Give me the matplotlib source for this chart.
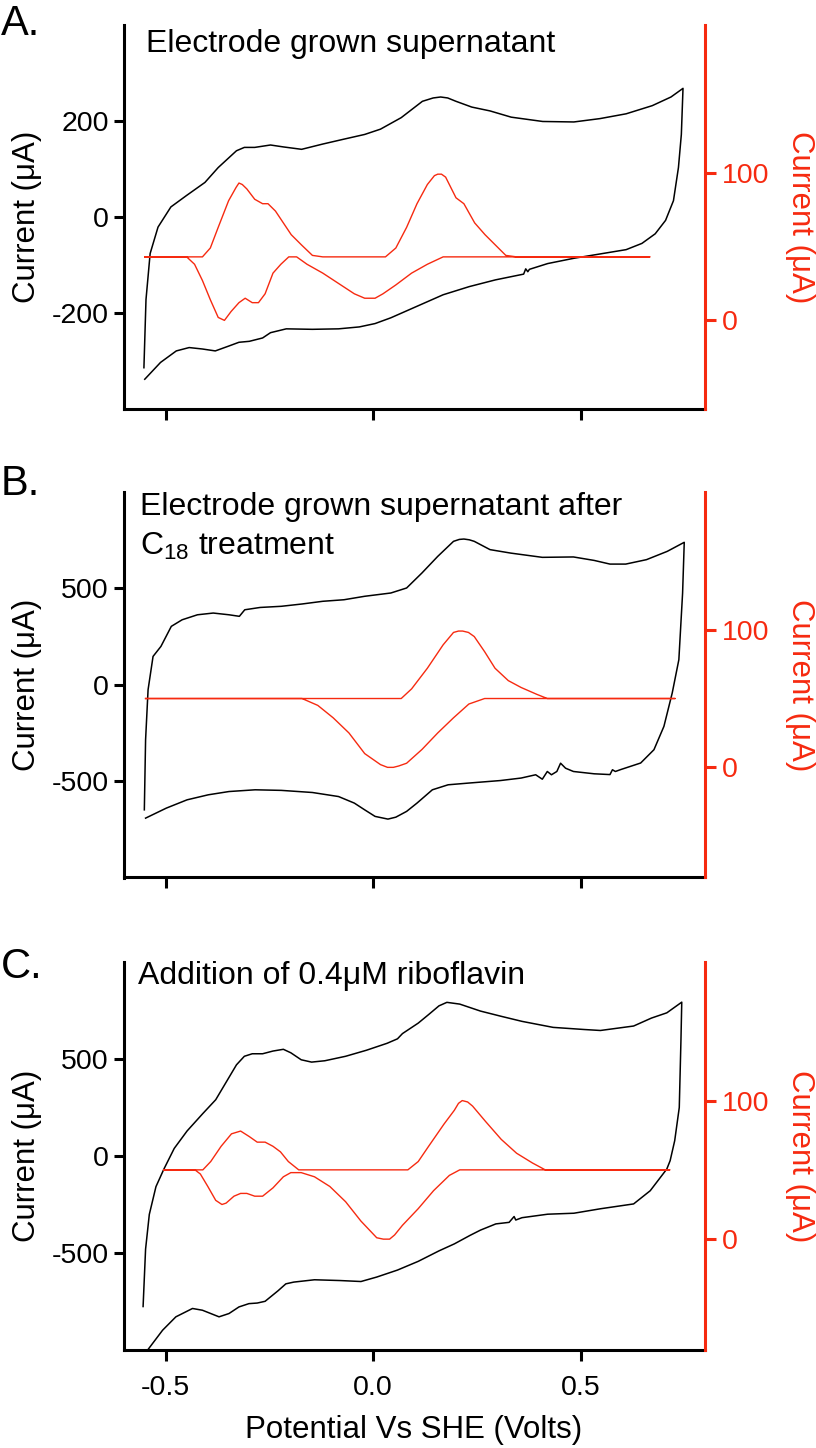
import matplotlib
matplotlib.use("Agg")
import matplotlib.pyplot as plt

plt.rcParams['font.family'] = ['Liberation Sans', 'DejaVu Sans']
plt.rcParams['mathtext.default'] = 'regular'

RED = '#f62a10'

# panel A, black loop (left axis, uA)
a_black_v = [-0.552, -0.547, -0.537, -0.518, -0.487, -0.449, -0.405, -0.373, -0.329, -0.310,
             -0.285, -0.247, -0.216, -0.172, -0.121, -0.071, -0.020, 0.018, 0.068, 0.119,
             0.145, 0.163, 0.180, 0.200, 0.238, 0.282, 0.333, 0.409, 0.484, 0.547, 0.610,
             0.673, 0.718, 0.747,
             0.743, 0.736, 0.724, 0.705, 0.680, 0.648, 0.610, 0.547, 0.484, 0.421, 0.377, 0.373,
             0.368, 0.363, 0.295, 0.232, 0.169, 0.106, 0.043, 0.005, -0.033, -0.083, -0.146,
             -0.209, -0.247, -0.266, -0.298, -0.323, -0.348, -0.380, -0.411, -0.443, -0.474,
             -0.512, -0.550]
a_black_i = [-314, -172, -76, -21, 21, 45, 72, 103, 138, 145,
             145, 150, 146, 141, 152, 162, 172, 183, 207, 241,
             248, 250, 248, 241, 229, 221, 208, 199, 198, 205, 215,
             232, 250, 268,
             172, 103, 34, -7, -35, -55, -68, -77, -86, -97, -109, -114,
             -108, -119, -131, -145, -162, -186, -210, -222, -229, -233, -234,
             -233, -241, -252, -259, -261, -269, -279, -275, -272, -279,
             -303, -338]
# panel A, red loop (right axis, uA)
a_red_v = [-0.550, -0.411, -0.392, -0.373, -0.348, -0.330, -0.323, -0.315, -0.304, -0.285,
           -0.266, -0.253, -0.235, -0.216, -0.197, -0.172, -0.146, -0.121, 0.030, 0.055,
           0.081, 0.106, 0.131, 0.148, 0.156, 0.165, 0.175, 0.200, 0.219, 0.245, 0.270,
           0.295, 0.320, 0.346, 0.667,
           0.169, 0.131, 0.093, 0.055, 0.024, 0.005, -0.020, -0.045, -0.083, -0.121, -0.159,
           -0.184, -0.203, -0.222, -0.241, -0.260, -0.276, -0.291, -0.308, -0.323, -0.342,
           -0.358, -0.373, -0.392, -0.411, -0.430, -0.449, -0.550]
a_red_i = [43, 43, 49, 63, 81, 90, 93, 92, 89, 82,
           79, 79, 74, 66, 58, 51, 44, 43, 43, 49,
           63, 79, 92, 98, 99, 99, 97, 83, 79, 66, 58,
           51, 44, 43, 43,
           43, 38, 32, 24, 18, 15, 15, 18, 25, 32, 38,
           43, 43, 38, 32, 18, 12, 12, 15, 12, 6,
           0, 2, 14, 27, 38, 43, 43]

# panel B
b_black_v = [-0.551, -0.548, -0.542, -0.530, -0.511, -0.486, -0.460, -0.423, -0.385, -0.347,
             -0.322, -0.309, -0.272, -0.221, -0.171, -0.121, -0.070, -0.020, 0.043, 0.081,
             0.118, 0.156, 0.194, 0.208, 0.219, 0.232, 0.244, 0.282, 0.332, 0.408, 0.483,
             0.533, 0.571, 0.609, 0.659, 0.709, 0.750,
             0.746, 0.737, 0.721, 0.701, 0.677, 0.645, 0.597, 0.584, 0.577, 0.571, 0.533,
             0.483, 0.464, 0.452, 0.443, 0.430, 0.420, 0.408, 0.392, 0.357, 0.307, 0.231,
             0.181, 0.143, 0.106, 0.081, 0.055, 0.036, 0.005, -0.020, -0.045, -0.083, -0.146,
             -0.221, -0.284, -0.347, -0.397, -0.448, -0.498, -0.548]
b_black_i = [-649, -286, -26, 147, 199, 303, 337, 363, 372, 363,
             355, 389, 401, 407, 419, 433, 441, 459, 476, 502,
             580, 666, 744, 754, 756, 752, 744, 701, 683, 661, 663,
             645, 626, 626, 649, 692, 739,
             475, 130, -43, -216, -337, -406, -440, -450, -441, -466, -462,
             -450, -433, -407, -450, -467, -450, -490, -467, -484, -497, -510,
             -519, -545, -614, -657, -687, -697, -683, -649, -614, -580, -559,
             -548, -545, -554, -571, -597, -640, -692]
b_red_v = [-0.548, 0.068, 0.093, 0.131, 0.169, 0.194, 0.206, 0.216, 0.230, 0.244,
           0.269, 0.294, 0.326, 0.357, 0.395, 0.420, 0.728,
           0.269, 0.231, 0.194, 0.156, 0.118, 0.081, 0.062, 0.049, 0.035, 0.018, -0.020,
           -0.058, -0.096, -0.133, -0.171, -0.196, -0.548]
b_red_i = [50, 50, 57, 72, 89, 98, 99, 99, 98, 95,
           84, 72, 63, 58, 53, 50, 50,
           50, 46, 36, 25, 13, 3, 1, 0, 0, 2, 10,
           25, 36, 45, 50, 50, 50]

# panel C
c_black_v = [-0.554, -0.548, -0.539, -0.523, -0.504, -0.479, -0.448, -0.410, -0.379, -0.354,
             -0.329, -0.310, -0.291, -0.266, -0.241, -0.216, -0.198, -0.173, -0.148, -0.116,
             -0.066, -0.016, 0.034, 0.059, 0.071, 0.109, 0.134, 0.159, 0.178, 0.209,
             0.259, 0.309, 0.359, 0.434, 0.509, 0.548, 0.628, 0.671, 0.708, 0.744,
             0.742, 0.738, 0.727, 0.716, 0.708, 0.668, 0.628, 0.548, 0.484, 0.421, 0.359,
             0.344, 0.340, 0.328, 0.296, 0.259, 0.234, 0.196, 0.159, 0.109, 0.059, 0.009,
             -0.029, -0.079, -0.141, -0.191, -0.210, -0.229, -0.260, -0.279, -0.299, -0.323,
             -0.347, -0.371, -0.411, -0.435, -0.475, -0.507, -0.543]
c_black_i = [-776, -480, -301, -158, -68, 39, 129, 219, 290, 380,
             470, 514, 527, 527, 541, 550, 532, 496, 484, 491,
             514, 545, 581, 604, 631, 685, 729, 774, 792, 783,
             747, 720, 694, 663, 652, 647, 670, 711, 738, 793,
             593, 250, 79, -24, -67, -179, -247, -272, -295, -300, -318,
             -330, -312, -342, -350, -382, -409, -453, -489, -543, -588, -624,
             -647, -642, -638, -650, -659, -695, -749, -758, -761, -778,
             -812, -829, -795, -786, -829, -898, -1000]
c_red_v = [-0.504, -0.410, -0.391, -0.366, -0.341, -0.319, -0.298, -0.279, -0.260, -0.241,
           -0.223, -0.204, -0.179, 0.084, 0.109, 0.134, 0.171, 0.196, 0.206, 0.215, 0.228,
           0.240, 0.271, 0.309, 0.346, 0.384, 0.415, 0.715,
           0.209, 0.184, 0.146, 0.109, 0.071, 0.052, 0.040, 0.025, 0.009, -0.029, -0.066,
           -0.104, -0.141, -0.173, -0.198, -0.216, -0.241, -0.266, -0.285, -0.304, -0.319,
           -0.335, -0.354, -0.364, -0.379, -0.398, -0.416, -0.429, -0.504]
c_red_i = [50, 50, 56, 67, 76, 78, 74, 70, 70, 67,
           63, 56, 50, 50, 56, 67, 83, 93, 98, 100, 99,
           96, 85, 72, 62, 55, 50, 50,
           50, 46, 35, 22, 10, 3, 0, 0, 1, 13, 27,
           38, 45, 48, 48, 45, 37, 31, 31, 33, 33,
           31, 26, 25, 28, 38, 47, 50, 50]

panels = [
    ('A.', ['Electrode grown supernatant'], a_black_v, a_black_i, a_red_v, a_red_i,
     (-400, 400), [-200, 0, 200], (-60, 200)),
    ('B.', ['Electrode grown supernatant after', 'C$_{18}$ treatment'],
     b_black_v, b_black_i, b_red_v, b_red_i, (-1000, 1000), [-500, 0, 500], (-80, 200)),
    ('C.', ['Addition of 0.4\u03bcM riboflavin'], c_black_v, c_black_i, c_red_v, c_red_i,
     (-1000, 1000), [-500, 0, 500], (-80, 200)),
]

W, H = 816, 1448
# axes boxes in pixels: top, bottom
boxes = [(25, 409), (492, 877.5), (962, 1350)]
x_left, x_right = 124, 705

fig = plt.figure(figsize=(W / 100, H / 100), dpi=100)

for k, (tag, title, bv, bi, rv, ri, ylim, yticks, rlim) in enumerate(panels):
    top, bot = boxes[k]
    ax = fig.add_axes([x_left / W, 1 - bot / H, (x_right - x_left) / W, (bot - top) / H])
    ax.plot(bv, bi, color='black', lw=1.1)
    ax.set_xlim(-0.6, 0.8)
    ax.set_ylim(*ylim)
    ax.set_yticks(yticks)
    ax.set_xticks([-0.5, 0.0, 0.5])
    ax.set_xticklabels(['-0.5', '0.0', '0.5'])
    ax.set_yticklabels([str(t) for t in yticks])
    for s in ['top', 'right']:
        ax.spines[s].set_visible(False)
    for s in ['left', 'bottom']:
        ax.spines[s].set_linewidth(2.2)
    ax.tick_params(axis='y', direction='out', length=7.5, width=2.2, labelsize=20.5, pad=3.5)
    ax.tick_params(axis='x', direction='out', length=8, width=2.2, labelsize=20.5, pad=10,
                   labelbottom=(k == 2))

    ax2 = ax.twinx()
    ax2.plot(rv, ri, color=RED, lw=1.0)
    ax2.set_ylim(*rlim)
    ax2.set_yticks([0, 100])
    ax2.set_yticklabels(['0', '100'])
    for s in ['top', 'left', 'bottom']:
        ax2.spines[s].set_visible(False)
    ax2.spines['right'].set_color(RED)
    ax2.spines['right'].set_linewidth(2.2)
    ax2.tick_params(axis='y', direction='out', length=8, width=2.2, labelsize=20.5, pad=4,
                    colors=RED)

    mid = 1 - (top + bot) / 2 / H
    fig.text(27 / W, mid, 'Current (\u03bcA)', rotation=90, ha='center', va='center',
             fontsize=22.5)
    fig.text(800 / W, mid, 'Current (\u03bcA)', rotation=270, ha='center', va='center',
             fontsize=22.5, color=RED)

# panel letters and titles (baselines in pixels)
fig.text(1 / W, 1 - 35 / H, 'A.', fontsize=30, va='baseline')
fig.text(1 / W, 1 - 495 / H, 'B.', fontsize=30, va='baseline')
fig.text(1 / W, 1 - 978 / H, 'C.', fontsize=30, va='baseline')
fig.text(146 / W, 1 - 52 / H, panels[0][1][0], fontsize=23, va='baseline')
fig.text(140 / W, 1 - 515 / H, panels[1][1][0], fontsize=23, va='baseline')
fig.text(140 / W, 1 - 555 / H, panels[1][1][1], fontsize=23, va='baseline')
fig.text(138 / W, 1 - 984 / H, panels[2][1][0], fontsize=23, va='baseline')

fig.text(414 / W, 1 - 1438 / H, 'Potential Vs SHE (Volts)', fontsize=22.5, ha='center',
         va='baseline')

fig.savefig('out.png', dpi=100)
